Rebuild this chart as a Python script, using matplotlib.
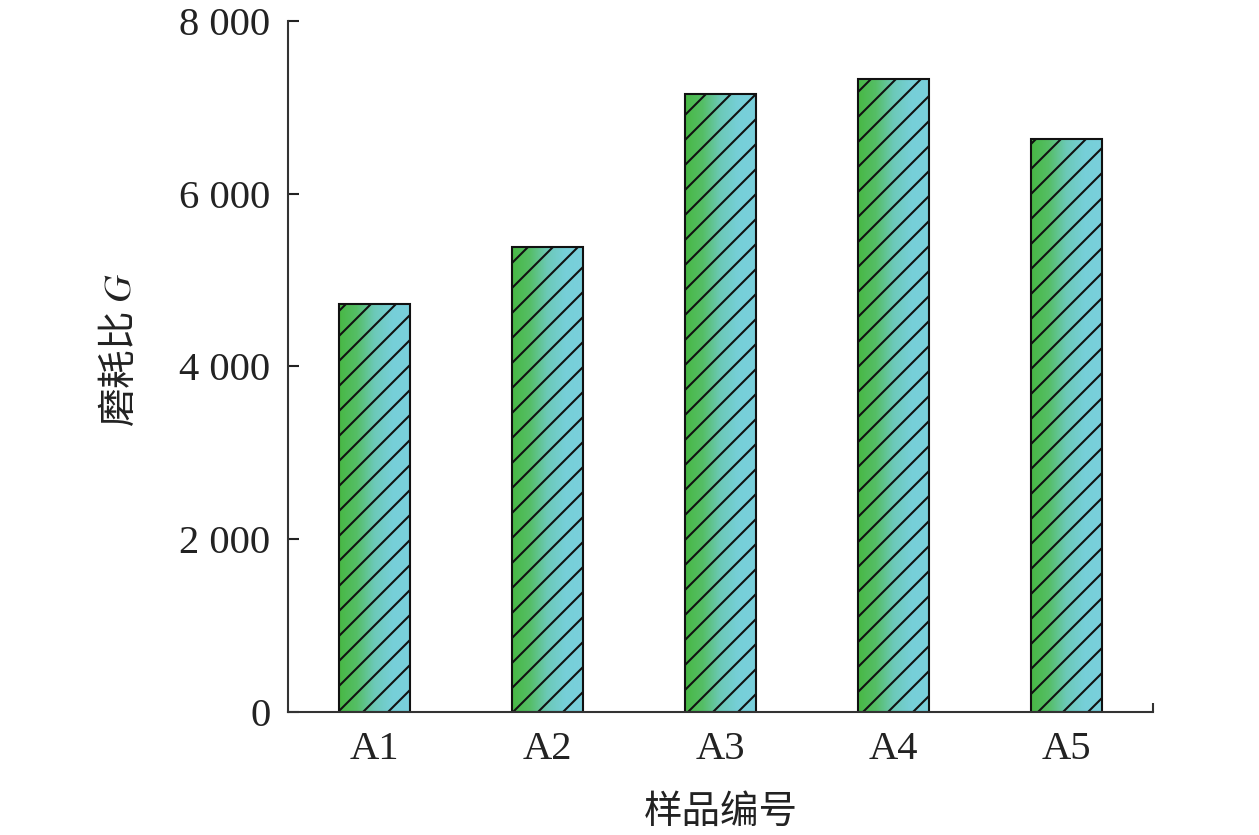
import numpy as np
import matplotlib
matplotlib.use("Agg")
import matplotlib.pyplot as plt
from matplotlib.colors import LinearSegmentedColormap

categories = ["A1", "A2", "A3", "A4", "A5"]
values = [4720, 5380, 7160, 7330, 6630]
yticks = [0, 2000, 4000, 6000, 8000]
ytick_labels = ["0", "2 000", "4 000", "6 000", "8 000"]

plt.rcParams['mathtext.fontset'] = 'stix'
plt.rcParams['hatch.linewidth'] = 1.0

fig = plt.figure(figsize=(1259/150, 835/150), dpi=150)
ax = fig.add_axes([288/1259, 1-712/835, (1153-288)/1259, (712-21)/835])

cmap = LinearSegmentedColormap.from_list("g", ["#48b844", "#55be66", "#6cc9b8", "#76cfd8", "#7ad0dc"])
grad = np.linspace(0, 1, 256).reshape(1, -1)
x = np.arange(len(categories))
w = 0.405
for xi, v in zip(x, values):
    im = ax.imshow(grad, cmap=cmap, extent=[xi - w/2, xi + w/2, 0, v],
                   aspect='auto', zorder=1, interpolation='bicubic')
    bars = ax.bar([xi], [v], width=w, facecolor='none', edgecolor='#111111',
                  hatch='//', linewidth=1.0, zorder=2)
    im.set_clip_path(bars.patches[0])

ax.set_xlim(-0.5, 4.5)
ax.set_ylim(0, 8000)
ax.set_xticks(x)
ax.set_xticklabels(categories, fontfamily='Liberation Serif', fontsize=19.5)
ax.set_yticks(yticks)
ax.set_yticklabels(ytick_labels, fontfamily='Liberation Serif', fontsize=19.5)
ax.tick_params(axis='y', direction='in', length=5.3, width=1.0, pad=8.5, colors='#222222')
ax.tick_params(axis='x', length=0, pad=9, colors='#222222')
ax.set_xticks([4.5], minor=True)
ax.tick_params(axis='x', which='minor', direction='in', length=4.5, width=1.0, color='#333333')

for s in ['top', 'right']:
    ax.spines[s].set_visible(False)
for s in ['left', 'bottom']:
    ax.spines[s].set_linewidth(1.0)
    ax.spines[s].set_color('#333333')

ax.set_xlabel("样品编号", fontfamily=['Noto Sans CJK SC'], fontsize=18.5, color='#222222')
ax.set_ylabel("磨耗比 $G$", fontfamily=['Noto Sans CJK SC'], fontsize=18.5, color='#222222')
ax.xaxis.set_label_coords(0.5, -0.115)
ax.yaxis.set_label_coords(-0.171, 0.524)

fig.savefig("out.png", dpi=150)
